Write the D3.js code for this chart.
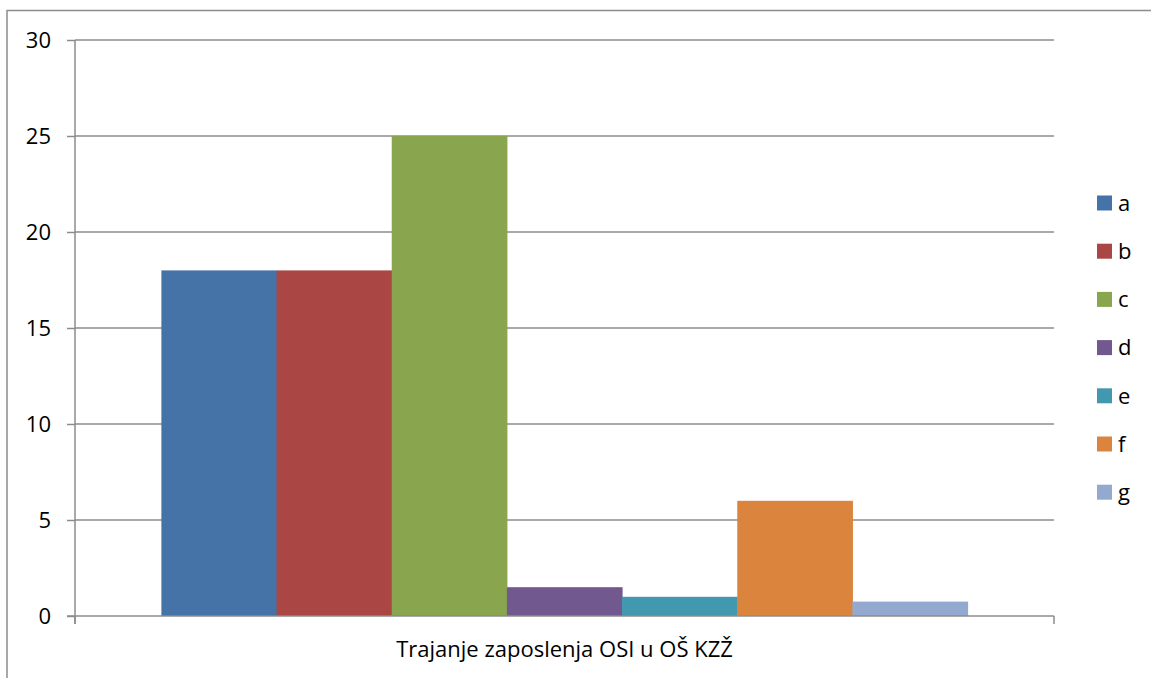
<!DOCTYPE html>
<html>
<head>
<meta charset="utf-8">
<script src="https://cdn.jsdelivr.net/npm/d3@7"></script>
<style>
  body { margin: 0; background: #fff; }
  svg { display: block; font-family: "Open Sans", "Noto Sans", sans-serif; }
</style>
</head>
<body>
<svg id="chart" width="1151" height="678"></svg>
<script>
const series = ["a", "b", "c", "d", "e", "f", "g"]
const values = [18, 18, 25, 1.5, 1, 6, 0.75]
const colors = ["#4572A7", "#AA4643", "#89A54E", "#71588F", "#4198AF", "#DB843D", "#93A9CF"]
const yTicks = [0, 5, 10, 15, 20, 25, 30]
const category = "Trajanje zaposlenja OSI u OŠ KZŽ"

const svg = d3.select("#chart")
const grey = "#8c8c8c"
const m = { left: 75, right: 1054, top: 40, bottom: 616 }
const fs = 22

// chart border
svg.append("rect")
  .attr("x", 7).attr("y", 10.5)
  .attr("width", 1160).attr("height", 700)
  .attr("fill", "none").attr("stroke", grey).attr("stroke-width", 1.5)

const y = d3.scaleLinear().domain([0, 30]).range([m.bottom, m.top])

// one category, bars side by side with a 150% gap split on both sides
const x = d3.scaleBand().domain(series).range([m.left, m.right]).paddingInner(0).paddingOuter(0.75)

// gridlines
svg.append("g")
  .selectAll("line")
  .data(yTicks.filter(d => d > 0))
  .join("line")
  .attr("x1", m.left).attr("x2", m.right)
  .attr("y1", d => y(d)).attr("y2", d => y(d))
  .attr("stroke", grey).attr("stroke-width", 1.5)

// bars
svg.append("g")
  .selectAll("rect")
  .data(series)
  .join("rect")
  .attr("x", d => x(d))
  .attr("width", x.bandwidth() + 0.5)
  .attr("y", (d, i) => y(values[i]))
  .attr("height", (d, i) => y(0) - y(values[i]))
  .attr("fill", (d, i) => colors[i])

// y axis
const yAxis = svg.append("g")
  .attr("transform", `translate(${m.left},0)`)
  .call(d3.axisLeft(y).tickValues(yTicks).tickSize(8).tickPadding(16).tickFormat(d3.format("d")))
yAxis.select(".domain").attr("stroke", grey).attr("stroke-width", 1.5).attr("d", `M0,${m.top}V${m.bottom + 8}`)
yAxis.selectAll(".tick line").attr("stroke", grey).attr("stroke-width", 1.5)
yAxis.selectAll(".tick text").attr("font-size", fs).attr("fill", "#000")
  .attr("font-family", "'Open Sans', sans-serif")

// x axis
const xAxis = svg.append("g")
  .attr("transform", `translate(0,${m.bottom})`)
xAxis.append("line")
  .attr("x1", m.left - 8).attr("x2", m.right)
  .attr("stroke", grey).attr("stroke-width", 1.5)
xAxis.selectAll(".tk")
  .data([m.left, m.right])
  .join("line")
  .attr("x1", d => d).attr("x2", d => d)
  .attr("y1", 0).attr("y2", 8)
  .attr("stroke", grey).attr("stroke-width", 1.5)
xAxis.append("text")
  .attr("x", (m.left + m.right) / 2)
  .attr("y", 41)
  .attr("text-anchor", "middle")
  .attr("font-size", fs)
  .text(category)

// legend
const legend = svg.append("g")
  .selectAll("g")
  .data(series)
  .join("g")
  .attr("transform", (d, i) => `translate(1097,${203 + i * 48.2})`)
legend.append("rect")
  .attr("y", -7.5).attr("width", 15).attr("height", 15)
  .attr("fill", (d, i) => colors[i])
legend.append("text")
  .attr("x", 21).attr("dy", "0.35em")
  .attr("font-size", fs)
  .text(d => d)
</script>
</body>
</html>
